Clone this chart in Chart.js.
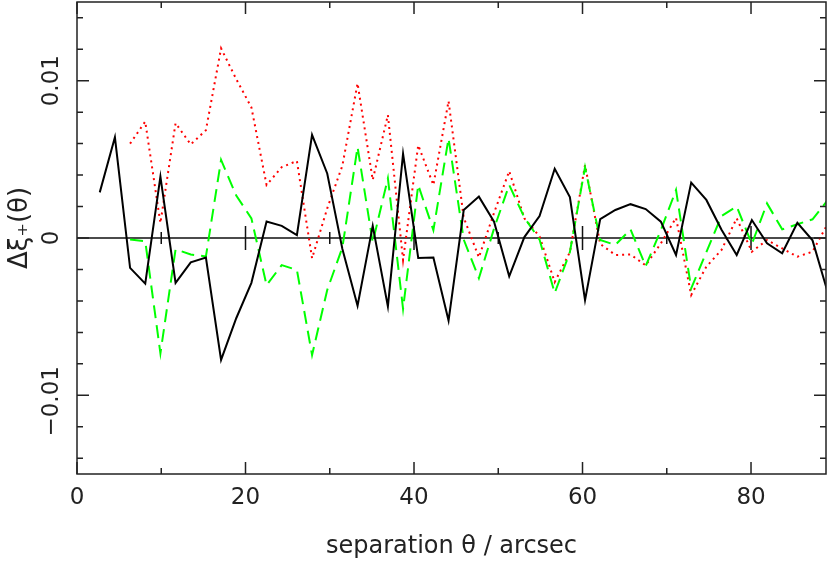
<!DOCTYPE html>
<html>
<head>
<meta charset="utf-8">
<title>Delta xi+ vs separation</title>
<script src="https://cdn.jsdelivr.net/npm/chart.js@4.4.0/dist/chart.umd.min.js"></script>
<style>
  html, body { margin: 0; padding: 0; background: #fff; }
  #wrap { width: 830px; height: 563px; }
</style>
</head>
<body>
<div id="wrap"><canvas id="xiChart" width="830" height="563"></canvas></div>
<script>
// separation bins (arcsec)
const theta = [2.7, 4.5, 6.3, 8.1, 9.9, 11.7, 13.5, 15.3, 17.1, 18.9,
  20.7, 22.5, 24.3, 26.1, 27.9, 29.7, 31.5, 33.3, 35.1, 36.9,
  38.7, 40.5, 42.3, 44.1, 45.9, 47.7, 49.5, 51.3, 53.1, 54.9,
  56.7, 58.5, 60.3, 62.1, 63.9, 65.7, 67.5, 69.3, 71.1, 72.9,
  74.7, 76.5, 78.3, 80.1, 81.9, 83.7, 85.5, 87.3, 89.1];

// delta xi+ in units of 1e-3
const xiSolid = [2.9, 6.4, -1.9, -2.9, 3.9, -2.85, -1.55, -1.25, -7.75, -5.1,
  -2.85, 1.05, 0.77, 0.18, 6.55, 4.1, -0.7, -4.3, 0.77, -4.35,
  5.35, -1.27, -1.24, -5.25, 1.78, 2.63, 1.04, -2.44, 0.06, 1.4,
  4.4, 2.6, -3.95, 1.2, 1.78, 2.15, 1.84, 1.04, -1.08, 3.52,
  2.42, 0.52, -1.08, 1.14, -0.34, -0.97, 0.97, -0.15, -3.45];

const xiDotted = [null, null, 6.0, 7.4, 0.95, 7.3, 5.95, 6.85, 12.05, 10.1,
  8.3, 3.37, 4.5, 4.9, -1.29, 1.88, 4.6, 9.83, 3.69, 7.82,
  -1.4, 5.9, 3.37, 8.7, 1.3, -1.23, 1.6, 4.25, 1.25, 0.1,
  -2.8, -0.9, 4.64, -0.38, -1.08, -1.05, -1.74, -0.34, 1.28, -3.62,
  -1.82, -0.76, 1.25, -0.87, -0.13, -0.66, -1.19, -0.87, 0.9];

const xiDashed = [null, null, -0.1, -0.2, -7.33, -0.72, -1.05, -1.17, 4.96, 2.7,
  1.25, -3.0, -1.72, -2.03, -7.44, -3.3, -0.6, 5.78, -0.28, 3.8,
  -4.5, 3.37, 0.5, 6.33, -0.1, -2.56, 0.6, 3.37, 1.3, -0.1,
  -3.5, -0.9, 4.5, -0.13, -0.44, 0.55, -1.78, 0.5, 3.05, -3.2,
  -0.9, 1.4, 2.0, -0.38, 2.2, 0.55, 0.87, 1.19, 2.4];

// ticks
const xMajorTicks = [0, 20, 40, 60, 80];
const xMinorTicks = [10, 30, 50, 70];
const yTickLabels = [-0.01, 0, 0.01];
const yMinorTicks = [-0.014, -0.012, -0.008, -0.006, -0.004, -0.002,
  0.002, 0.004, 0.006, 0.008, 0.012, 0.014];

const FONT = '"DejaVu Sans", sans-serif';

function toPoints(vals){
  return theta.map((t, i) => ({ x: t, y: vals[i] == null ? null : vals[i] / 1000 }));
}

// frame, inside ticks, zero line and y labels
const framePlugin = {
  id: 'frameTicks',
  beforeDatasetsDraw(chart){
    const {ctx, chartArea: a, scales: {x, y}} = chart;
    const y0 = y.getPixelForValue(0);
    ctx.save();
    ctx.strokeStyle = '#111';
    ctx.lineWidth = 1.5;
    ctx.beginPath();
    ctx.moveTo(a.left, y0); ctx.lineTo(a.right, y0);
    xMajorTicks.slice(1).forEach(v => {
      const px = x.getPixelForValue(v);
      ctx.moveTo(px, y0 - 12); ctx.lineTo(px, y0 + 12);
    });
    xMinorTicks.forEach(v => {
      const px = x.getPixelForValue(v);
      ctx.moveTo(px, y0 - 6); ctx.lineTo(px, y0 + 6);
    });
    ctx.stroke();
    ctx.restore();
  },
  afterDraw(chart){
    const {ctx, chartArea: a, scales: {x, y}} = chart;
    ctx.save();
    ctx.strokeStyle = '#222';
    ctx.lineWidth = 1.5;
    ctx.strokeRect(a.left, a.top, a.right - a.left, a.bottom - a.top);
    ctx.beginPath();
    const xt = xMajorTicks.map(v => [v, 12]).concat(xMinorTicks.map(v => [v, 6]));
    xt.forEach(([v, len]) => {
      const px = x.getPixelForValue(v);
      ctx.moveTo(px, a.bottom); ctx.lineTo(px, a.bottom - len);
      ctx.moveTo(px, a.top); ctx.lineTo(px, a.top + len);
    });
    const yt = yTickLabels.map(v => [v, 12]).concat(yMinorTicks.map(v => [v, 6]));
    yt.forEach(([v, len]) => {
      const py = y.getPixelForValue(v);
      ctx.moveTo(a.left, py); ctx.lineTo(a.left + len, py);
      ctx.moveTo(a.right, py); ctx.lineTo(a.right - len, py);
    });
    ctx.stroke();

    // rotated y tick labels
    ctx.fillStyle = '#222';
    ctx.font = '23px ' + FONT;
    ctx.textAlign = 'center';
    ctx.textBaseline = 'middle';
    yTickLabels.forEach(v => {
      const py = y.getPixelForValue(v);
      const txt = v === 0 ? '0' : (v < 0 ? '\u2212' : '') + Math.abs(v).toString();
      ctx.save();
      ctx.translate(52, v < 0 ? py + 6 : py);
      ctx.rotate(-Math.PI / 2);
      ctx.fillText(txt, 0, 0);
      ctx.restore();
    });

    // y axis title
    ctx.font = '26px ' + FONT;
    ctx.save();
    ctx.translate(20, 228);
    ctx.rotate(-Math.PI / 2);
    ctx.fillText('\u0394\u03BE\u208A(\u03B8)', 0, 0);
    ctx.restore();
    ctx.restore();
  }
};

new Chart(document.getElementById('xiChart'), {
  type: 'line',
  data: {
    datasets: [
      { label: 'solid', data: toPoints(xiSolid), borderColor: '#000', borderWidth: 2 },
      { label: 'dashed', data: toPoints(xiDashed), borderColor: '#00ff00', borderWidth: 2, borderDash: [13, 7] },
      { label: 'dotted', data: toPoints(xiDotted), borderColor: '#ff0000', borderWidth: 2, borderDash: [2, 4] }
    ]
  },
  options: {
    responsive: false,
    animation: false,
    events: [],
    elements: { point: { radius: 0 }, line: { tension: 0, fill: false } },
    layout: { padding: { top: 2, right: 4, left: 0, bottom: 0 } },
    plugins: { legend: { display: false }, tooltip: { enabled: false } },
    scales: {
      x: {
        type: 'linear',
        min: 0,
        max: 88.9,
        grid: { display: false, drawTicks: false },
        border: { display: false },
        ticks: {
          stepSize: 20,
          includeBounds: false,
          padding: 10,
          color: '#222',
          font: { family: FONT, size: 23 },
          maxRotation: 0,
          callback: v => v
        },
        title: {
          display: true,
          text: 'separation \u03B8 / arcsec',
          color: '#222',
          font: { family: FONT, size: 24 },
          padding: { top: 0, bottom: 2 }
        },
        afterFit: s => { s.height = 89; }
      },
      y: {
        type: 'linear',
        min: -0.015,
        max: 0.015,
        grid: { display: false, drawTicks: false },
        border: { display: false },
        ticks: { display: false },
        afterFit: s => { s.width = 77; }
      }
    }
  },
  plugins: [framePlugin]
});
</script>
</body>
</html>
